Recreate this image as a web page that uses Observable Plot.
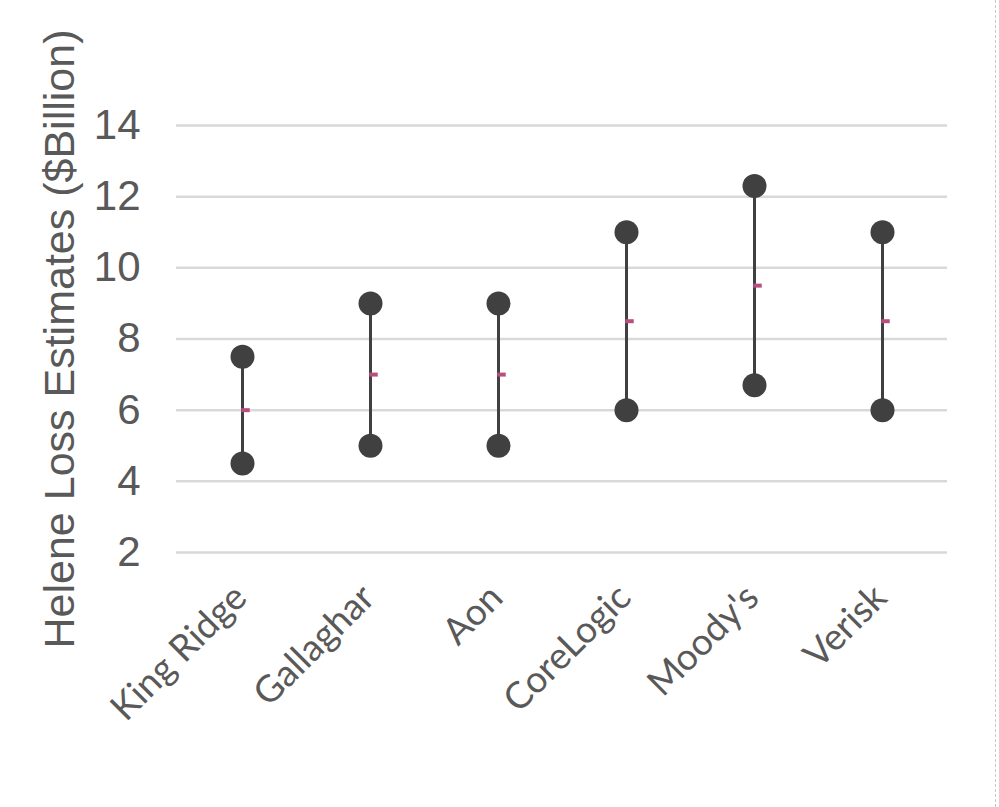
<!DOCTYPE html>
<html>
<head>
<meta charset="utf-8">
<script src="https://cdn.jsdelivr.net/npm/d3@7"></script>
<script src="https://cdn.jsdelivr.net/npm/@observablehq/plot@0.6"></script>
<style>
  html, body { margin: 0; padding: 0; background: #fff; }
  #wrap { width: 995px; height: 807px; border-right: 1.5px dashed #c8c8c8; }
  svg { display: block; }
</style>
</head>
<body>
<div id="wrap"></div>
<script>
const firms = ["King Ridge", "Gallaghar", "Aon", "CoreLogic", "Moody's", "Verisk"];
const lowEstimates = [4.5, 5, 5, 6, 6.7, 6];
const highEstimates = [7.5, 9, 9, 11, 12.3, 11];
const midEstimates = [6, 7, 7, 8.5, 9.5, 8.5];
const yTicks = [2, 4, 6, 8, 10, 12, 14];
const yTitle = "Helene Loss Estimates ($Billion)";

const rows = firms.map((f, i) => ({firm: f, low: lowEstimates[i], high: highEstimates[i], mid: midEstimates[i]}));

const W = 995, H = 807;
const mL = 176, mR = W - 947, mT = 125, mB = H - 552;
const bw = (W - mL - mR) / firms.length;

const chart = Plot.plot({
  width: W,
  height: H,
  marginLeft: mL,
  marginRight: mR,
  marginTop: mT,
  marginBottom: mB,
  style: {background: "#fff", overflow: "visible"},
  x: {type: "band", domain: firms, padding: 0, align: 0.5},
  y: {domain: [2, 14]},
  marks: [
    Plot.gridY(yTicks, {stroke: "#d9d9d9", strokeOpacity: 1, strokeWidth: 2.5}),
    Plot.axisY(yTicks, {
      tickSize: 0, tickPadding: 36, label: null,
      fontSize: 42, fontFamily: "Liberation Sans, Arial, sans-serif", fill: "#595959"
    }),
    Plot.axisX({
      tickSize: 0, tickPadding: 39, tickRotate: -45, label: null,
      fontSize: 37, fontFamily: "Lato, 'Open Sans', sans-serif", fill: "#595959", dx: -2
    }),
    Plot.text([yTitle], {
      frameAnchor: "left", dx: -116, rotate: -90, text: d => d,
      fontSize: 43, fontFamily: "Liberation Sans, Arial, sans-serif", fill: "#595959",
      textAnchor: "middle", lineAnchor: "middle"
    }),
    Plot.ruleX(rows, {x: "firm", y1: "low", y2: "high", stroke: "#404040", strokeWidth: 3}),
    Plot.dot(rows, {x: "firm", y: "low", r: 12, fill: "#404040", stroke: "none"}),
    Plot.dot(rows, {x: "firm", y: "high", r: 12, fill: "#404040", stroke: "none"}),
    Plot.tickY(rows, {
      x: "firm", y: "mid", stroke: "#b84f7f", strokeWidth: 4,
      insetLeft: bw / 2 - 1, insetRight: bw / 2 - 8
    })
  ]
});

document.getElementById("wrap").appendChild(chart);
</script>
</body>
</html>
